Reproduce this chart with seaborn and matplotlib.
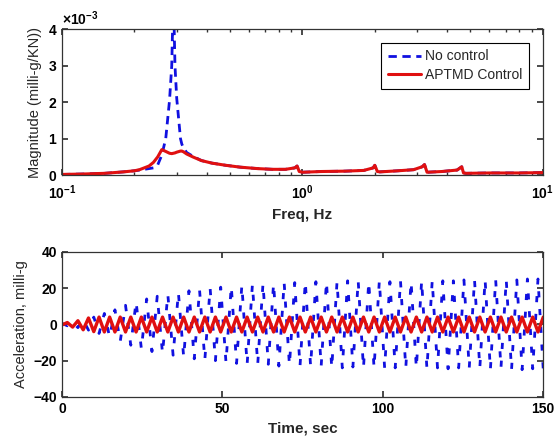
import matplotlib
matplotlib.use("Agg")
import matplotlib.pyplot as plt
import matplotlib.ticker as mticker
import numpy as np
import seaborn as sns

# frequency response (values in 1e-3 milli-g/KN)
freq = [0.1, 0.12, 0.15, 0.18, 0.2, 0.21, 0.23, 0.24, 0.25, 0.26, 0.27, 0.28,
        0.286, 0.2905, 0.295, 0.30, 0.311, 0.315, 0.32, 0.33, 0.35, 0.38, 0.42,
        0.48, 0.55, 0.65, 0.75, 0.85, 0.93, 0.95, 0.97, 1.0, 1.2, 1.5, 1.8,
        1.97, 2.0, 2.05, 2.1, 2.5, 2.9, 3.15, 3.22, 3.3, 3.8, 4.4, 4.6, 4.68,
        4.8, 6, 8, 10]
mag_aptmd = [0.02, 0.03, 0.05, 0.09, 0.12, 0.15, 0.25, 0.35, 0.5, 0.7, 0.65, 0.6,
             0.59, 0.6, 0.61, 0.63, 0.66, 0.66, 0.64, 0.58, 0.5, 0.4, 0.33,
             0.27, 0.22, 0.18, 0.16, 0.16, 0.2, 0.25, 0.1, 0.08, 0.1, 0.11, 0.13,
             0.2, 0.27, 0.1, 0.09, 0.12, 0.15, 0.23, 0.29, 0.08, 0.1, 0.14, 0.23, 0.06,
             0.05, 0.06, 0.06, 0.07]
mag_nocontrol = [0.02, 0.03, 0.05, 0.09, 0.12, 0.14, 0.18, 0.2, 0.28, 0.55, 1.0, 2.05,
                 3.0, 5.0, 3.0, 2.1, 1.0, 0.85, 0.75, 0.62, 0.52, 0.4, 0.33,
                 0.27, 0.22, 0.18, 0.16, 0.16, 0.2, 0.25, 0.1, 0.08, 0.1, 0.11, 0.13,
                 0.2, 0.27, 0.1, 0.09, 0.12, 0.15, 0.23, 0.29, 0.08, 0.1, 0.14, 0.23, 0.06,
                 0.05, 0.06, 0.06, 0.07]

# time history: peak magnitude of each half cycle (sign alternates)
half_cycle = 1.65  # sec
acc_nocontrol = [0.5, 0.8, 1.2, 1.8, 2.5, 3.2,
                 4, 5, 6, 7, 8, 9.5,
                 10.5, 11.5, 12.5, 13.5, 14, 15,
                 15.5, 16, 16.5, 17, 17.5, 18,
                 18.5, 19, 19, 19.5, 20, 20,
                 20.5, 21, 21, 21.5, 21.5, 22,
                 22, 22, 22.5, 22, 22.5, 23,
                 23, 22.5, 23, 23, 23.5, 23,
                 23.5, 23, 23.5, 24, 23.5, 24,
                 24, 23.5, 24, 24, 23.5, 24,
                 24, 24, 23.5, 24, 24, 24,
                 23.5, 24, 24, 24.5, 24, 24,
                 24, 24.5, 24, 24, 24.5, 24,
                 24.5, 24, 24.5, 25, 24.5, 24,
                 24.5, 25, 24.5, 25, 25, 24.5, 25, 25]
acc_aptmd = [0.3, 1.0, 1.5, 2.0, 3.0, 3.5,
             4.0, 4.0, 4.2, 4.0, 4.2, 4.0,
             4.2, 4.0, 4.2, 4.0, 4.2, 4.0,
             4.2, 4.0, 4.2, 4.0, 4.2, 4.0,
             4.2, 4.0, 4.2, 4.0, 4.2, 4.0,
             4.2, 4.0, 4.2, 4.0, 4.2, 4.0,
             4.2, 4.0, 4.2, 4.0, 4.2, 4.0,
             4.2, 4.0, 4.2, 4.0, 4.2, 4.0,
             4.2, 4.0, 4.2, 4.0, 4.2, 4.0,
             4.2, 4.0, 4.2, 4.0, 4.2, 4.0,
             4.2, 4.0, 4.2, 4.0, 4.2, 4.0,
             4.2, 4.0, 4.2, 4.0, 4.2, 4.0,
             4.2, 4.0, 4.2, 4.0, 4.2, 4.0,
             4.2, 4.0, 4.2, 4.0, 4.2, 4.0,
             4.2, 4.0, 4.2, 4.0, 4.2, 4.0, 4.2, 4.0]

sns.set_theme(style="ticks")
plt.rcParams['font.family'] = ['Liberation Sans', 'DejaVu Sans']
plt.rcParams['mathtext.fontset'] = 'custom'
plt.rcParams['mathtext.rm'] = 'Liberation Sans'
plt.rcParams['mathtext.bf'] = 'Liberation Sans:bold'
plt.rcParams['mathtext.default'] = 'bf'

fig = plt.figure(figsize=(5.59, 4.48), dpi=100)
ax1 = fig.add_axes([0.111, 0.609, 0.860, 0.326])
ax2 = fig.add_axes([0.111, 0.114, 0.860, 0.324])

# --- top: frequency response
sns.lineplot(x=np.array(freq), y=np.array(mag_nocontrol) * 1e-3, ax=ax1, color='#1010e0',
             lw=2, linestyle='--', label='No control')
ax1.lines[-1].set_dashes([3, 2])
sns.lineplot(x=np.array(freq), y=np.array(mag_aptmd) * 1e-3, ax=ax1, color='#e01010',
             lw=2.2, label='APTMD Control')
ax1.set_xscale('log')
ax1.set_xlim(0.1, 10)
ax1.set_ylim(0, 4e-3)
ax1.set_yticks([0, 1e-3, 2e-3, 3e-3, 4e-3])
ax1.yaxis.set_major_formatter(mticker.ScalarFormatter(useMathText=True))
ax1.ticklabel_format(axis='y', style='sci', scilimits=(0, 0))
ax1.xaxis.set_major_formatter(mticker.FuncFormatter(
    lambda v, p: r'$\mathbf{10^{%d}}$' % round(np.log10(v))))
ax1.set_xlabel('Freq, Hz', fontsize=11, fontweight='bold')
ax1.set_ylabel('Magnitude (milli-g/KN))', fontsize=10.5)
leg = ax1.legend(loc='upper right', bbox_to_anchor=(0.971, 0.904), fontsize=10,
                 frameon=True, fancybox=False, edgecolor='black', framealpha=1,
                 handlelength=2.4, handletextpad=0.3, borderpad=0.45, labelspacing=0.35,
                 borderaxespad=0)
leg.get_frame().set_linewidth(0.8)

# --- bottom: time history
n = len(acc_nocontrol)
acc_time = np.arange(n) * half_cycle
sign = np.where(np.arange(n) % 2 == 0, 1, -1)
sns.lineplot(x=acc_time, y=sign * np.array(acc_nocontrol), ax=ax2, color='#1010e0',
             lw=2, linestyle='--')
ax2.lines[-1].set_dashes([2.2, 4.2])
sns.lineplot(x=acc_time, y=-sign * np.array(acc_aptmd), ax=ax2, color='#e01010', lw=2.4)
ax2.set_xlim(0, 150)
ax2.set_ylim(-40, 40)
ax2.set_xticks([0, 50, 100, 150])
ax2.set_yticks([-40, -20, 0, 20, 40])
ax2.set_xlabel('Time, sec', fontsize=11, fontweight='bold')
ax2.set_ylabel('Acceleration, milli-g', fontsize=10.5)

for ax in (ax1, ax2):
    ax.tick_params(which='both', direction='in', top=True, right=True,
                   labelsize=10, colors='#333333', labelcolor='black')
    ax.tick_params(which='major', length=4)
    ax.tick_params(which='minor', length=2.5)
    for lab in ax.get_xticklabels() + ax.get_yticklabels():
        lab.set_fontweight('bold')
    for s in ax.spines.values():
        s.set_color('#333333')
        s.set_linewidth(0.9)
    ax.grid(False)
ax1.yaxis.get_offset_text().set_fontsize(10)
ax1.yaxis.get_offset_text().set_fontweight('bold')
ax1.xaxis.set_tick_params(pad=6)

fig.savefig('out.png', dpi=100)
